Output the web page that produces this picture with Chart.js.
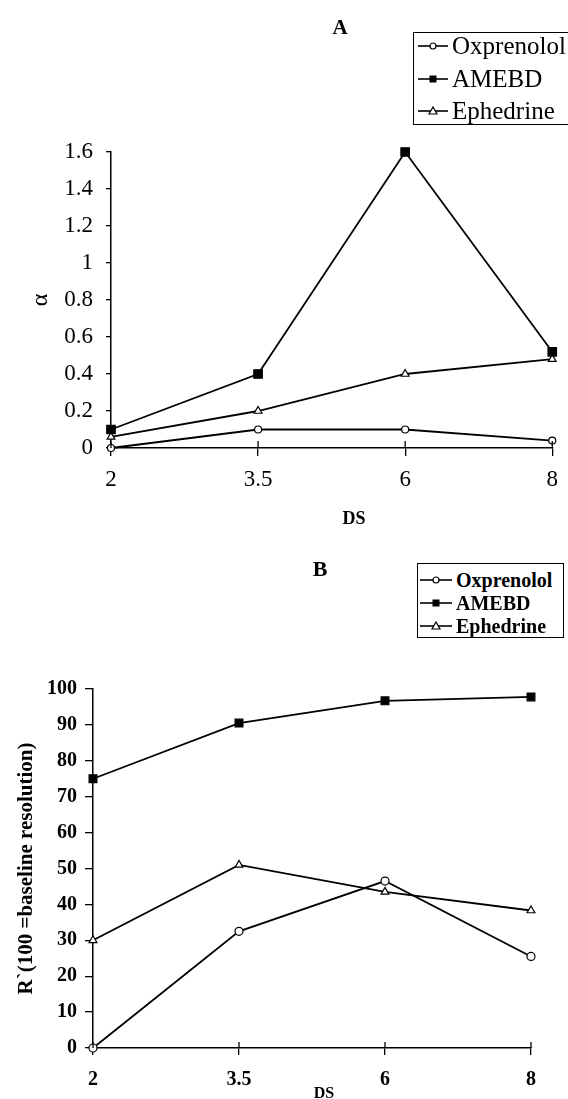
<!DOCTYPE html>
<html>
<head>
<meta charset="utf-8">
<script src="https://cdn.jsdelivr.net/npm/chart.js@4.4.1/dist/chart.umd.min.js"></script>
<style>
  body { margin: 0; background: #fff; }
  #page {
    position: relative; width: 568px; height: 1099px; overflow: hidden;
    font-family: 'Liberation Serif', 'Times New Roman', serif; color: #000;
  }
  #page canvas { position: absolute; left: 0; }
  .label { position: absolute; font-weight: bold; line-height: 1; white-space: nowrap; transform: translate(-50%, -50%); }
  .legend { position: absolute; border: 1px solid #000; background: #fff; box-sizing: border-box; }
  .legend-row { position: absolute; display: flex; align-items: center; white-space: nowrap; height: 30px; line-height: 30px; }
  .legend-row svg { margin-right: 4px; }
</style>
</head>
<body>
<div id="page">
  <canvas id="chartA" width="568" height="530" style="top:0"></canvas>
  <canvas id="chartB" width="568" height="569" style="top:530px"></canvas>

  <div class="label" style="left:340px; top:27px; font-size:21px;">A</div>
  <div class="label" style="left:354px; top:518px; font-size:18px;">DS</div>
  <div class="label" style="left:320px; top:569px; font-size:22px;">B</div>
  <div class="label" style="left:324px; top:1093px; font-size:16px;">DS</div>

  <div id="legendA" class="legend" style="left:413px; top:32px; width:160px; height:93px; font-size:25px;"></div>
  <div id="legendB" class="legend" style="left:417px; top:563px; width:147px; height:75px; font-size:20px; font-weight:bold;"></div>
</div>

<script>
const FONT = "'Liberation Serif', 'Times New Roman', serif";

const dsLabels = ['2', '3.5', '6', '8'];
const seriesNames = ['Oxprenolol', 'AMEBD', 'Ephedrine'];

// panel A: alpha
const alphaOxprenolol = [0, 0.1, 0.1, 0.04];
const alphaAmebd = [0.1, 0.4, 1.6, 0.52];
const alphaEphedrine = [0.06, 0.2, 0.4, 0.48];

// panel B: R' (100 = baseline resolution)
const resOxprenolol = [0, 32.5, 46.5, 25.5];
const resAmebd = [75, 90.5, 96.7, 97.8];
const resEphedrine = [30, 51, 43.5, 38.3];

const seriesStyles = [
  { pointStyle: 'circle', fill: '#fff' },
  { pointStyle: 'rect', fill: '#000' },
  { pointStyle: 'triangle', fill: '#fff' }
];

function makeDatasets(values, radii) {
  return values.map((data, i) => ({
    label: seriesNames[i],
    data,
    borderColor: '#000',
    borderWidth: 1.8,
    pointStyle: seriesStyles[i].pointStyle,
    pointRadius: radii[i],
    pointBackgroundColor: seriesStyles[i].fill,
    pointBorderColor: '#000',
    pointBorderWidth: 1.2,
    tension: 0,
    clip: false
  }));
}

// x ticks in the original cross the axis line, Chart.js only draws them below
const crossTicks = {
  id: 'crossTicks',
  afterDraw(chart, args, opts) {
    const xs = chart.scales.x;
    const ctx = chart.ctx;
    const b = chart.chartArea.bottom;
    ctx.save();
    ctx.strokeStyle = '#000';
    ctx.lineWidth = 1.3;
    xs.ticks.forEach((_, i) => {
      const px = xs.getPixelForTick(i);
      ctx.beginPath();
      ctx.moveTo(px, b - opts.up);
      ctx.lineTo(px, b);
      ctx.stroke();
    });
    ctx.restore();
  }
};

function buildChart(id, cfg) {
  return new Chart(document.getElementById(id), {
    type: 'line',
    data: { labels: dsLabels, datasets: cfg.datasets },
    plugins: [crossTicks],
    options: {
      responsive: false,
      animation: false,
      layout: { padding: cfg.padding },
      plugins: {
        legend: { display: false },
        tooltip: { enabled: false },
        crossTicks: { up: cfg.tickUp }
      },
      scales: {
        x: {
          type: 'category',
          offset: false,
          grid: { drawOnChartArea: false, drawTicks: true, tickLength: cfg.xTickLength, color: '#000', lineWidth: 1.3 },
          border: { display: true, color: '#000', width: 1.5 },
          ticks: { color: '#000', font: cfg.xFont, padding: cfg.xPad, maxRotation: 0, autoSkip: false },
          afterFit(s) { s.height = cfg.xHeight; }
        },
        y: {
          min: cfg.yMin,
          max: cfg.yMax,
          ticks: {
            stepSize: cfg.yStep, color: '#000', font: cfg.yFont, padding: cfg.yPad,
            callback: v => String(Number(v.toFixed(1)))
          },
          grid: { drawOnChartArea: false, drawTicks: true, tickLength: cfg.yTickLength, color: '#000', lineWidth: 1.3 },
          border: { display: true, color: '#000', width: 1.5 },
          title: { display: true, text: cfg.yTitle, color: '#000', font: cfg.yTitleFont, padding: { top: cfg.yTitlePad, bottom: 0 } },
          afterFit(s) { s.width = cfg.yWidth; }
        }
      }
    }
  });
}

function legendIcon(style, w) {
  const c = w / 2;
  let mark;
  if (style.pointStyle === 'circle') {
    mark = `<circle cx="${c}" cy="6" r="3" fill="#fff" stroke="#000" stroke-width="1.2"/>`;
  } else if (style.pointStyle === 'rect') {
    mark = `<rect x="${c - 3.5}" y="2.5" width="7" height="7" fill="#000"/>`;
  } else {
    mark = `<polygon points="${c},2 ${c - 4},9 ${c + 4},9" fill="#fff" stroke="#000" stroke-width="1.2"/>`;
  }
  return `<svg width="${w}" height="12" viewBox="0 0 ${w} 12">` +
    `<line x1="0" y1="6" x2="${w}" y2="6" stroke="#000" stroke-width="1.6"/>${mark}</svg>`;
}

function buildLegend(id, rowCenters, left, iconW) {
  const el = document.getElementById(id);
  seriesNames.forEach((name, i) => {
    const row = document.createElement('div');
    row.className = 'legend-row';
    row.style.left = left + 'px';
    row.style.top = (rowCenters[i] - 15) + 'px';
    row.innerHTML = legendIcon(seriesStyles[i], iconW) + `<span>${name}</span>`;
    el.appendChild(row);
  });
}

buildChart('chartA', {
  datasets: makeDatasets([alphaOxprenolol, alphaAmebd, alphaEphedrine], [3.5, 6, 4.5]),
  padding: { left: 0, right: 15, top: 152, bottom: 0 },
  tickUp: 7,
  xTickLength: 8, xPad: 10, xHeight: 82,
  xFont: { family: FONT, size: 23 },
  yMin: 0, yMax: 1.6, yStep: 0.2,
  yFont: { family: FONT, size: 23 },
  yPad: 13, yTickLength: 5, yWidth: 111,
  yTitle: 'α', yTitleFont: { family: FONT, size: 24 }, yTitlePad: 26
});

buildChart('chartB', {
  datasets: makeDatasets([resOxprenolol, resAmebd, resEphedrine], [4, 5.5, 4.5]),
  padding: { left: 0, right: 37, top: 159, bottom: 0 },
  tickUp: 6,
  xTickLength: 7, xPad: 13, xHeight: 51,
  xFont: { family: FONT, size: 20, weight: 'bold' },
  yMin: 0, yMax: 100, yStep: 10,
  yFont: { family: FONT, size: 20, weight: 'bold' },
  yPad: 8, yTickLength: 8, yWidth: 93,
  yTitle: 'R`(100 =baseline resolution)', yTitleFont: { family: FONT, size: 21, weight: 'bold' }, yTitlePad: 14
});

buildLegend('legendA', [13, 46, 78], 4, 30);
buildLegend('legendB', [16, 39, 62], 2, 32);
</script>
</body>
</html>
